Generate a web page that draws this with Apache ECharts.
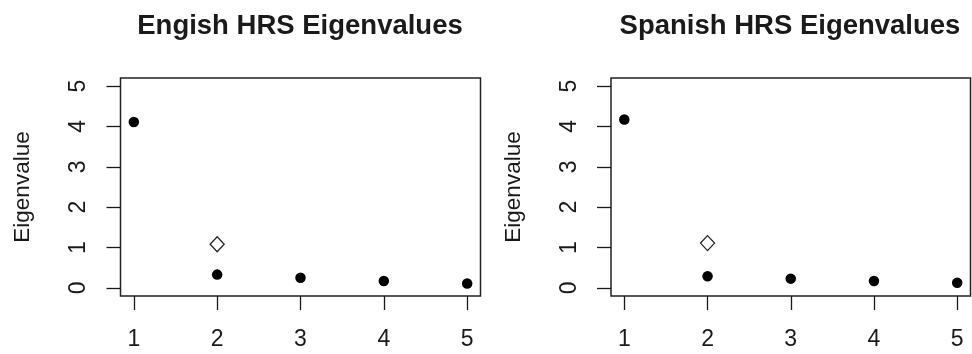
<!DOCTYPE html>
<html>
<head>
<meta charset="utf-8">
<script src="https://cdn.jsdelivr.net/npm/echarts@6/dist/echarts.min.js"></script>
<style>
  html, body { margin: 0; padding: 0; background: #fff; }
  #chart { width: 972px; height: 354px; }
</style>
</head>
<body>
<div id="chart"></div>
<script>
  // eigenvalue index (x)
  const factors = [1, 2, 3, 4, 5];
  const yTicks = [0, 1, 2, 3, 4, 5];

  // eigenvalues
  const englishEigen = [4.11, 0.33, 0.25, 0.17, 0.11];
  const spanishEigen = [4.17, 0.29, 0.23, 0.17, 0.13];

  // the open diamond at factor 2
  const englishDiamond = [[2, 1.08]];
  const spanishDiamond = [[2, 1.11]];

  const titles = ['Engish HRS Eigenvalues', 'Spanish HRS Eigenvalues'];

  const font = '"Liberation Sans", Arial, Helvetica, sans-serif';
  const ink = '#1a1a1a';

  let myChart = echarts.init(document.getElementById('chart'));

  const toPoints = (vals) => vals.map((v, i) => [factors[i], v]);

  const makeX = (gridIndex) => ({
    gridIndex,
    type: 'value',
    min: 0.84,
    max: 5.16,
    splitLine: { show: false },
    axisLine: { show: false, onZero: false },
    axisTick: {
      show: true,
      inside: false,
      length: 14,
      customValues: factors,
      lineStyle: { color: ink, width: 1.3 },
    },
    axisLabel: {
      customValues: factors,
      margin: 32,
      color: ink,
      fontSize: 23,
      fontFamily: font,
    },
  });

  const makeY = (gridIndex) => ({
    gridIndex,
    type: 'value',
    min: -0.2,
    max: 5.2,
    name: 'Eigenvalue',
    nameLocation: 'middle',
    nameRotate: 90,
    nameGap: 86,
    nameTextStyle: { color: ink, fontSize: 22.5, fontFamily: font },
    splitLine: { show: false },
    axisLine: { show: false, onZero: false },
    axisTick: {
      show: true,
      inside: false,
      length: 14,
      customValues: yTicks,
      lineStyle: { color: ink, width: 1.3 },
    },
    axisLabel: {
      customValues: yTicks,
      rotate: 90,
      margin: 30,
      color: ink,
      fontSize: 23,
      fontFamily: font,
    },
  });

  const dots = (idx, vals) => ({
    type: 'scatter',
    xAxisIndex: idx,
    yAxisIndex: idx,
    symbol: 'circle',
    symbolSize: 10.5,
    itemStyle: { color: '#000', opacity: 1 },
    data: toPoints(vals),
  });

  const diamond = (idx, pts) => ({
    type: 'scatter',
    xAxisIndex: idx,
    yAxisIndex: idx,
    symbol: 'diamond',
    symbolSize: [14, 15],
    itemStyle: { color: '#fff', borderColor: '#222', borderWidth: 1.3, opacity: 1 },
    data: pts,
  });

  let option = {
    backgroundColor: '#fff',
    animation: false,
    title: titles.map((t, i) => ({
      text: t,
      left: i === 0 ? 300 : 790,
      top: 12,
      padding: 0,
      textAlign: 'center',
      textStyle: { fontSize: 27.5, fontWeight: 'bold', color: ink, fontFamily: font },
    })),
    grid: [
      { left: 120.5, top: 78, width: 360, height: 218, show: true, borderColor: '#222', borderWidth: 1.5, backgroundColor: 'transparent' },
      { left: 611, top: 78, width: 359.5, height: 218, show: true, borderColor: '#222', borderWidth: 1.5, backgroundColor: 'transparent' },
    ],
    xAxis: [makeX(0), makeX(1)],
    yAxis: [makeY(0), makeY(1)],
    series: [
      dots(0, englishEigen),
      diamond(0, englishDiamond),
      dots(1, spanishEigen),
      diamond(1, spanishDiamond),
    ],
  };

  myChart.setOption(option);
</script>
</body>
</html>
